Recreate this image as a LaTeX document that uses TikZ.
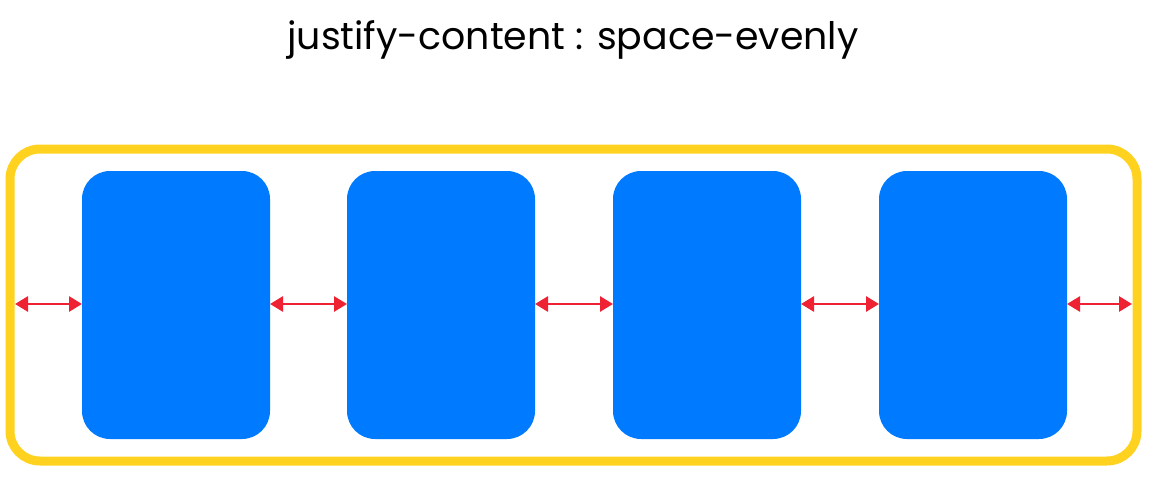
\documentclass[tikz,border=0pt]{standalone}
\usepackage{fontspec}
\setmainfont{Poppins}
\usetikzlibrary{arrows.meta}
\definecolor{fyellow}{HTML}{FFD21F}
\definecolor{iblue}{HTML}{007AFF}
\definecolor{gred}{HTML}{EE2233}
\tikzset{
  frame/.style={draw=fyellow, line width=9pt, rounded corners=30pt, minimum width=1127pt, minimum height=312pt, outer sep=0pt, inner sep=0pt},
  item/.style={fill=iblue, rounded corners=28pt, minimum width=188pt, minimum height=268pt, outer sep=0pt, inner sep=0pt},
  gap/.style={draw=gred, line width=2.8pt, {Triangle[length=13pt,width=15pt]}-{Triangle[length=13pt,width=15pt]}}
}
\begin{document}
\begin{tikzpicture}[x=1pt,y=-1pt]
\useasboundingbox (0,0) rectangle (1149,487);
\node (title) at (573,40) {\resizebox{571pt}{!}{justify-content : space-evenly}};
\node[frame] (f) at (573.5,305) {};
\node[item] (b1) at (176,305) {};
\node[item] (b2) at (441,305) {};
\node[item] (b3) at (707,305) {};
\node[item] (b4) at (973,305) {};
\coordinate (l) at ([xshift=5pt,yshift=1pt]f.west);
\coordinate (r) at ([xshift=-5pt,yshift=1pt]f.east);
\draw[gap] (l) -- (l -| b1.west);
\draw[gap] ([yshift=1pt]b1.east) -- ([yshift=1pt]b2.west);
\draw[gap] ([yshift=1pt]b2.east) -- ([yshift=1pt]b3.west);
\draw[gap] ([yshift=1pt]b3.east) -- ([yshift=1pt]b4.west);
\draw[gap] ([yshift=1pt]b4.east) -- (r);
\end{tikzpicture}
\end{document}
